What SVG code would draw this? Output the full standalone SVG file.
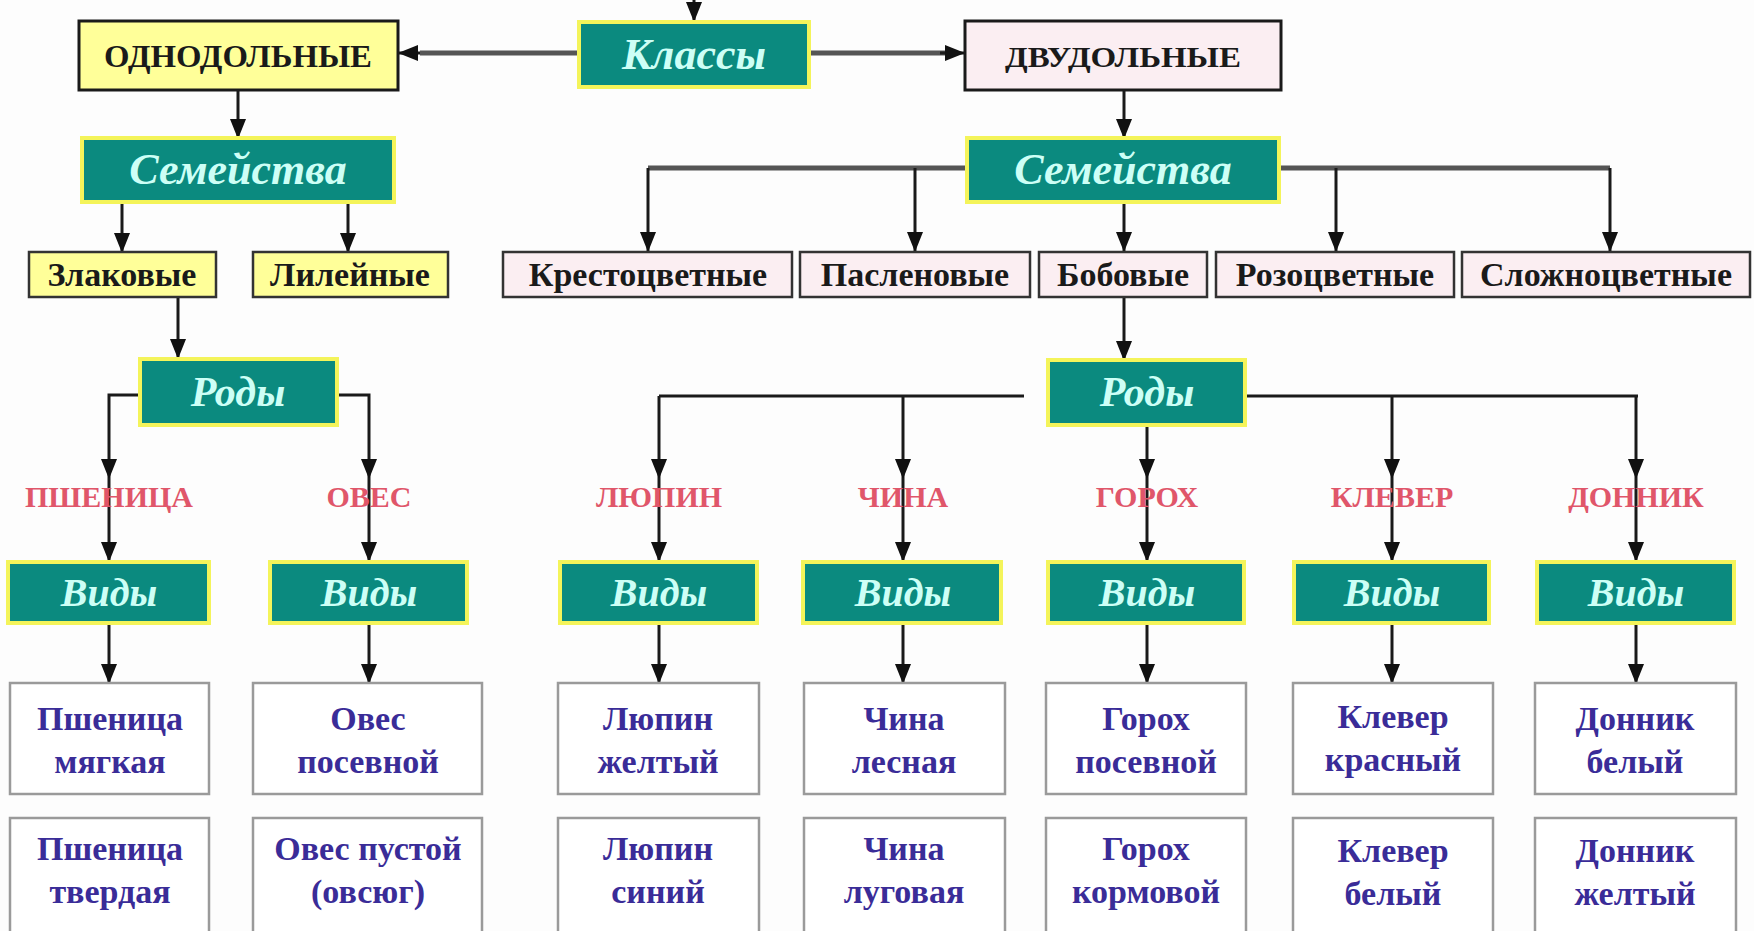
<svg xmlns="http://www.w3.org/2000/svg" width="1754" height="931" viewBox="0 0 1754 931">
<defs>
<marker id="ah" viewBox="0 0 20 16" refX="19" refY="8" markerWidth="20" markerHeight="16" markerUnits="userSpaceOnUse" orient="auto">
<path d="M0,0 L20,8 L0,16 z" fill="#111"/>
</marker>
<style>
.teal{fill:#0b8a7f;stroke:#f4f45a;stroke-width:4}
.tt{font-family:"Liberation Serif",serif;font-style:italic;font-weight:bold;fill:#cdfff6;text-anchor:middle}
.cls{stroke:#1a1a1a;stroke-width:3}
.mono{fill:#ffff99}
.di{fill:#fbeef2}
.ct{font-family:"Liberation Serif",serif;fill:#1a1a1a;text-anchor:middle;font-weight:bold}
.fam{stroke:#333;stroke-width:2.5}
.ft{font-family:"Liberation Serif",serif;font-weight:bold;font-size:34px;fill:#1a1a1a;text-anchor:middle}
.gen{font-family:"Liberation Serif",serif;font-weight:bold;font-size:30px;fill:#e0566a;text-anchor:middle}
.sp{fill:#fff;stroke:#9a9a9a;stroke-width:2.5}
.st{font-family:"Liberation Serif",serif;font-weight:bold;font-size:34px;fill:#3a2c98;text-anchor:middle}
.ln{fill:none;stroke:#1a1a1a;stroke-width:3}
.lg{fill:none;stroke:#555;stroke-width:5}
.ar{marker-end:url(#ah)}
</style>
</defs>
<rect width="1754" height="931" fill="#fdfdfd"/>

<g id="connectors">
<path class="ln ar" d="M694,0 L694,21"/>
<path class="lg" d="M579,53 L420,53"/>
<path class="ln ar" d="M420,53 L399,53"/>
<path class="lg" d="M809,53 L945,53"/>
<path class="ln ar" d="M940,53 L964,53"/>
<path class="ln ar" d="M238,90 L238,138"/>
<path class="ln ar" d="M1124,90 L1124,138"/>
<path class="ln ar" d="M122,202 L122,252"/>
<path class="ln ar" d="M348,202 L348,252"/>
<path class="lg" d="M967,168 L648,168"/>
<path class="ln ar" d="M648,168 L648,251"/>
<path class="ln ar" d="M915,168 L915,251"/>
<path class="ln ar" d="M1124,202 L1124,251"/>
<path class="lg" d="M1279,168 L1610,168"/>
<path class="ln ar" d="M1336,168 L1336,251"/>
<path class="ln ar" d="M1610,168 L1610,251"/>
<path class="ln ar" d="M178,297 L178,358"/>
<path class="ln ar" d="M1124,297 L1124,360"/>
<path class="ln ar" d="M140,395 L109,395 L109,478"/>
<path class="ln ar" d="M337,395 L369,395 L369,478"/>
<path class="ln" d="M1024,396 L659,396"/>
<path class="ln ar" d="M659,396 L659,478"/>
<path class="ln ar" d="M903,396 L903,478"/>
<path class="ln ar" d="M1147,425 L1147,478"/>
<path class="ln" d="M1245,396 L1638,396"/>
<path class="ln ar" d="M1392,396 L1392,478"/>
<path class="ln ar" d="M1636,396 L1636,478"/>
<path class="ln ar" d="M109,478 L109,561"/>
<path class="ln ar" d="M369,478 L369,561"/>
<path class="ln ar" d="M659,478 L659,561"/>
<path class="ln ar" d="M903,478 L903,561"/>
<path class="ln ar" d="M1147,478 L1147,561"/>
<path class="ln ar" d="M1392,478 L1392,561"/>
<path class="ln ar" d="M1636,478 L1636,561"/>
<path class="ln ar" d="M109,623 L109,683"/>
<path class="ln ar" d="M369,623 L369,683"/>
<path class="ln ar" d="M659,623 L659,683"/>
<path class="ln ar" d="M903,623 L903,683"/>
<path class="ln ar" d="M1147,623 L1147,683"/>
<path class="ln ar" d="M1392,623 L1392,683"/>
<path class="ln ar" d="M1636,623 L1636,683"/>
</g>

<g id="klassy"><rect class="teal" x="579" y="22" width="230" height="65"/><text class="tt" x="694" y="69" font-size="44">Классы</text></g>
<g id="odnodolnye"><rect class="mono cls" x="79" y="21" width="319" height="69"/><text class="ct" x="238" y="67" font-size="31" textLength="268" lengthAdjust="spacingAndGlyphs">ОДНОДОЛЬНЫЕ</text></g>
<g id="dvudolnye"><rect class="di cls" x="965" y="21" width="316" height="69"/><text class="ct" x="1123" y="67" font-size="30" textLength="236" lengthAdjust="spacingAndGlyphs">ДВУДОЛЬНЫЕ</text></g>

<g id="semeistva-1"><rect class="teal" x="82" y="138" width="312" height="64"/><text class="tt" x="238" y="184" font-size="44">Семейства</text></g>
<g id="semeistva-2"><rect class="teal" x="967" y="138" width="312" height="64"/><text class="tt" x="1123" y="184" font-size="44">Семейства</text></g>

<g id="zlakovye"><rect class="mono fam" x="29" y="252" width="187" height="45"/><text class="ft" x="122" y="286">Злаковые</text></g>
<g id="lileinye"><rect class="mono fam" x="253" y="252" width="195" height="45"/><text class="ft" x="350" y="286">Лилейные</text></g>
<g id="krestocvetnye"><rect class="di fam" x="503" y="252" width="289" height="45"/><text class="ft" x="648" y="286">Крестоцветные</text></g>
<g id="paslenovye"><rect class="di fam" x="800" y="252" width="230" height="45"/><text class="ft" x="915" y="286">Пасленовые</text></g>
<g id="bobovye"><rect class="di fam" x="1039" y="252" width="168" height="45"/><text class="ft" x="1123" y="286">Бобовые</text></g>
<g id="rozocvetnye"><rect class="di fam" x="1216" y="252" width="238" height="45"/><text class="ft" x="1335" y="286">Розоцветные</text></g>
<g id="slozhnocvetnye"><rect class="di fam" x="1462" y="252" width="288" height="45"/><text class="ft" x="1606" y="286">Сложноцветные</text></g>

<g id="rody-1"><rect class="teal" x="140" y="359" width="197" height="66"/><text class="tt" x="238" y="406" font-size="42">Роды</text></g>
<g id="rody-2"><rect class="teal" x="1048" y="360" width="197" height="65"/><text class="tt" x="1147" y="406" font-size="42">Роды</text></g>

<g id="g-pshenica"><text class="gen" x="109" y="507">ПШЕНИЦА</text></g>
<g id="g-oves"><text class="gen" x="369" y="507">ОВЕС</text></g>
<g id="g-lyupin"><text class="gen" x="659" y="507">ЛЮПИН</text></g>
<g id="g-china"><text class="gen" x="903" y="507">ЧИНА</text></g>
<g id="g-goroh"><text class="gen" x="1147" y="507">ГОРОХ</text></g>
<g id="g-klever"><text class="gen" x="1392" y="507">КЛЕВЕР</text></g>
<g id="g-donnik"><text class="gen" x="1636" y="507">ДОННИК</text></g>

<g id="vidy-1"><rect class="teal" x="8" y="562" width="201" height="61"/><text class="tt" x="109" y="606" font-size="40">Виды</text></g>
<g id="vidy-2"><rect class="teal" x="270" y="562" width="197" height="61"/><text class="tt" x="369" y="606" font-size="40">Виды</text></g>
<g id="vidy-3"><rect class="teal" x="560" y="562" width="197" height="61"/><text class="tt" x="659" y="606" font-size="40">Виды</text></g>
<g id="vidy-4"><rect class="teal" x="803" y="562" width="198" height="61"/><text class="tt" x="903" y="606" font-size="40">Виды</text></g>
<g id="vidy-5"><rect class="teal" x="1048" y="562" width="196" height="61"/><text class="tt" x="1147" y="606" font-size="40">Виды</text></g>
<g id="vidy-6"><rect class="teal" x="1294" y="562" width="195" height="61"/><text class="tt" x="1392" y="606" font-size="40">Виды</text></g>
<g id="vidy-7"><rect class="teal" x="1537" y="562" width="197" height="61"/><text class="tt" x="1636" y="606" font-size="40">Виды</text></g>

<g id="sp-1a"><rect class="sp" x="10" y="683" width="199" height="111"/><text class="st" x="110" y="730">Пшеница</text><text class="st" x="110" y="773">мягкая</text></g>
<g id="sp-2a"><rect class="sp" x="253" y="683" width="229" height="111"/><text class="st" x="368" y="730">Овес</text><text class="st" x="368" y="773">посевной</text></g>
<g id="sp-3a"><rect class="sp" x="558" y="683" width="201" height="111"/><text class="st" x="658" y="730">Люпин</text><text class="st" x="658" y="773">желтый</text></g>
<g id="sp-4a"><rect class="sp" x="804" y="683" width="201" height="111"/><text class="st" x="904" y="730">Чина</text><text class="st" x="904" y="773">лесная</text></g>
<g id="sp-5a"><rect class="sp" x="1046" y="683" width="200" height="111"/><text class="st" x="1146" y="730">Горох</text><text class="st" x="1146" y="773">посевной</text></g>
<g id="sp-6a"><rect class="sp" x="1293" y="683" width="200" height="111"/><text class="st" x="1393" y="728">Клевер</text><text class="st" x="1393" y="771">красный</text></g>
<g id="sp-7a"><rect class="sp" x="1535" y="683" width="201" height="111"/><text class="st" x="1635" y="730">Донник</text><text class="st" x="1635" y="773">белый</text></g>

<g id="sp-1b"><rect class="sp" x="10" y="818" width="199" height="120"/><text class="st" x="110" y="860">Пшеница</text><text class="st" x="110" y="903">твердая</text></g>
<g id="sp-2b"><rect class="sp" x="253" y="818" width="229" height="120"/><text class="st" x="368" y="860">Овес пустой</text><text class="st" x="368" y="903">(овсюг)</text></g>
<g id="sp-3b"><rect class="sp" x="558" y="818" width="201" height="120"/><text class="st" x="658" y="860">Люпин</text><text class="st" x="658" y="903">синий</text></g>
<g id="sp-4b"><rect class="sp" x="804" y="818" width="201" height="120"/><text class="st" x="904" y="860">Чина</text><text class="st" x="904" y="903">луговая</text></g>
<g id="sp-5b"><rect class="sp" x="1046" y="818" width="200" height="120"/><text class="st" x="1146" y="860">Горох</text><text class="st" x="1146" y="903">кормовой</text></g>
<g id="sp-6b"><rect class="sp" x="1293" y="818" width="200" height="120"/><text class="st" x="1393" y="862">Клевер</text><text class="st" x="1393" y="905">белый</text></g>
<g id="sp-7b"><rect class="sp" x="1535" y="818" width="201" height="120"/><text class="st" x="1635" y="862">Донник</text><text class="st" x="1635" y="905">желтый</text></g>
</svg>
